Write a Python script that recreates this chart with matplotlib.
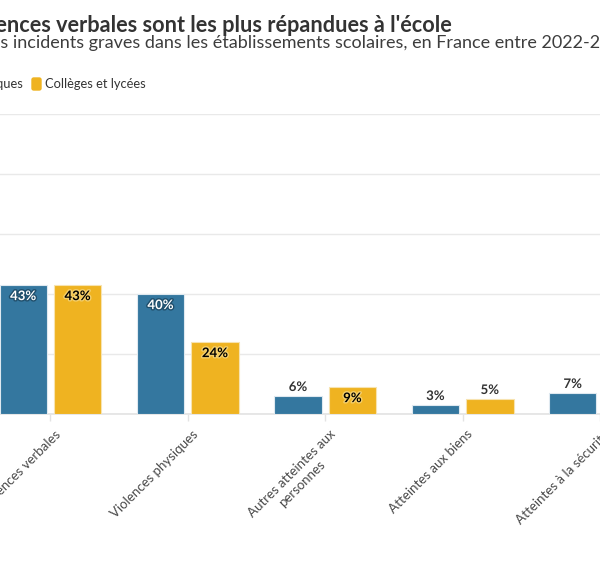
import matplotlib.pyplot as plt
import matplotlib.patheffects as pe
from matplotlib.patches import FancyBboxPatch
from matplotlib.transforms import ScaledTranslation

plt.rcParams['font.family'] = ['Lato', 'DejaVu Sans']

categories = ["Violences verbales", "Violences physiques", "Autres atteintes aux\npersonnes",
              "Atteintes aux biens", "Atteintes à la sécurité"]
ecoles = [43, 40, 6, 3, 7]
colleges = [43, 24, 9, 5, 19]
series_names = ["Écoles publiques", "Collèges et lycées"]
title = "Les violences verbales sont les plus répandues à l'école"
subtitle = "Répartition des incidents graves dans les établissements scolaires, en France entre 2022-2023"

blue = "#34779f"
yellow = "#efb321"

W, H = 600, 575
fig = plt.figure(figsize=(6, 5.75), dpi=100)


def fx(x):
    return x / W


def fy(y):
    return 1 - y / H


# axes: pixel 0 -> x=-0.367, 139 px per category, y 0..100 between px 414 and 114
ax = fig.add_axes([0, fy(414), 1, (414 - 114) / H])
ax.set_xlim(-51 / 139, (600 - 51) / 139)
ax.set_ylim(0, 100)

off = 0.198
bw = 0.345
x = list(range(len(categories)))
b1 = ax.bar([i - off for i in x], ecoles, bw, color=blue, edgecolor="#dfe9f0", linewidth=0.8, zorder=3)
b2 = ax.bar([i + off for i in x], colleges, bw, color=yellow, edgecolor="#f7e3b0", linewidth=0.8, zorder=3)

for bars, vals, inc, stroke in [(b1, ecoles, "white", "#1f4e6b"), (b2, colleges, "black", "#f5cf6a")]:
    for r, v in zip(bars, vals):
        cx = r.get_x() + r.get_width() / 2
        if v >= 8:
            ax.annotate(f"{v}%", (cx, v), xytext=(0, -8), textcoords="offset points",
                        ha="center", va="center", fontsize=9.5, fontweight="bold", color=inc,
                        path_effects=[pe.withStroke(linewidth=2, foreground=stroke)], zorder=4)
        else:
            ax.annotate(f"{v}%", (cx, v), xytext=(0, 6.5), textcoords="offset points",
                        ha="center", va="center", fontsize=9.5, fontweight="bold", color="#333333",
                        path_effects=[pe.withStroke(linewidth=2, foreground="white")], zorder=4)

ax.set_yticks(range(0, 101, 20))
ax.yaxis.grid(True, color="#e9e9e9", linewidth=1, zorder=0)
ax.tick_params(axis="y", length=0, labelleft=False)
for s in ["top", "left", "right"]:
    ax.spines[s].set_visible(False)
ax.spines["bottom"].set_color("#e3e3e3")
ax.spines["bottom"].set_linewidth(1.2)

ax.set_xticks(x)
ax.set_xticklabels(categories, rotation=45, ha="right", va="top", rotation_mode="anchor",
                   fontsize=9.5, color="#4a4a4a", multialignment="center")
ax.tick_params(axis="x", length=5, width=1, color="#e3e3e3", pad=5)
shift = ScaledTranslation(4 / 100, 0, fig.dpi_scale_trans)
for lab in ax.get_xticklabels():
    lab.set_transform(lab.get_transform() + shift)

fig.text(fx(452), fy(32), title, ha="right", va="baseline", fontsize=15.6, fontweight="bold", color="#333333")

# subtitle: the visible part starts with "s incidents" at the left edge
r = fig.canvas.get_renderer()
pre = fig.text(0, 0, "Répartition de", fontsize=13)
wpre = pre.get_window_extent(r).width
pre.remove()
fig.text(fx(-wpre), fy(48), subtitle, ha="left", va="baseline", fontsize=13, color="#3d3d3d")

# legend
t1 = fig.text(fx(23), fy(88), series_names[0], ha="right", va="baseline", fontsize=9.3, color="#333333")
w1 = t1.get_window_extent(r).width
for xp, c in [(23 - w1 - 13, blue), (32, yellow)]:
    fig.patches.append(FancyBboxPatch((fx(xp), fy(90)), 9 / W, 12 / H,
                                      boxstyle="round,pad=0,rounding_size=0.003",
                                      transform=fig.transFigure, color=c))
fig.text(fx(45), fy(88), series_names[1], ha="left", va="baseline", fontsize=9.3, color="#333333")

fig.savefig("out.png", dpi=100)
